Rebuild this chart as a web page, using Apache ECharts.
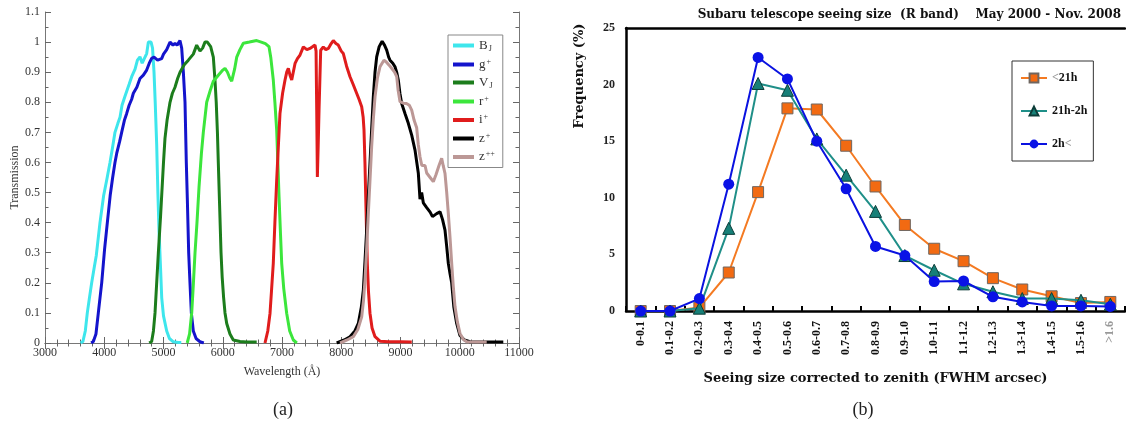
<!DOCTYPE html>
<html lang="en">
<head>
    <meta charset="utf-8">
    <script src="https://cdn.jsdelivr.net/npm/echarts@6/dist/echarts.min.js"></script>
    <title></title>
    <style>html, body { margin: 0; padding: 0; background: #fff; }</style>
</head>
<body>
<div id="main" style="width: 1126px;height:426px;"></div>
<script type="text/javascript">
    // (a) filter transmission curves, [wavelength (A), transmission]
    var bJ = [[3600, 0], [3640, 0.005], [3680, 0.04], [3714, 0.1], [3750, 0.15], [3788, 0.2], [3830, 0.25], [3865, 0.29],
        [3928, 0.4], [3990, 0.49], [4040, 0.54], [4097, 0.6], [4140, 0.65], [4181, 0.7], [4230, 0.73], [4266, 0.75],
        [4300, 0.79], [4350, 0.82], [4420, 0.86], [4463, 0.885], [4520, 0.91], [4560, 0.94], [4603, 0.951],
        [4640, 0.93], [4670, 0.935], [4716, 0.962], [4745, 1.0], [4790, 1.0], [4815, 0.98], [4840, 0.9], [4860, 0.8],
        [4885, 0.66], [4905, 0.5], [4925, 0.37], [4950, 0.25], [4970, 0.15], [5000, 0.09], [5054, 0.04],
        [5100, 0.015], [5166, 0.004], [5250, 0.002], [5300, 0.002]];
    var gPlus = [[3780, 0], [3816, 0.005], [3860, 0.03], [3900, 0.1], [3957, 0.2], [4005, 0.31], [4052, 0.4],
        [4100, 0.49], [4142, 0.55], [4181, 0.6], [4210, 0.63], [4260, 0.67], [4294, 0.7], [4340, 0.74], [4379, 0.763],
        [4420, 0.79], [4463, 0.81], [4491, 0.83], [4550, 0.85], [4603, 0.879], [4660, 0.89], [4716, 0.907],
        [4760, 0.93], [4800, 0.946], [4840, 0.95], [4873, 0.95], [4900, 0.94], [4930, 0.94], [4969, 0.945],
        [5000, 0.96], [5054, 0.975], [5110, 1.0], [5160, 0.99], [5194, 0.996], [5230, 0.99], [5278, 1.005],
        [5307, 0.98], [5335, 0.9], [5363, 0.8], [5385, 0.6], [5402, 0.48], [5425, 0.3], [5447, 0.2], [5470, 0.1],
        [5503, 0.04], [5550, 0.015], [5616, 0.004], [5680, 0]];
    var vJ = [[4760, 0], [4800, 0.005], [4830, 0.04], [4857, 0.1], [4885, 0.2], [4913, 0.3], [4950, 0.42],
        [4986, 0.55], [5000, 0.6], [5025, 0.68], [5060, 0.74], [5110, 0.8], [5150, 0.83], [5194, 0.85], [5240, 0.88],
        [5279, 0.9], [5350, 0.925], [5419, 0.94], [5503, 0.96], [5560, 0.99], [5616, 0.97], [5660, 0.98],
        [5700, 1.0], [5740, 1.0], [5796, 0.985], [5841, 0.95], [5870, 0.87], [5890, 0.8], [5910, 0.7], [5925, 0.6],
        [5945, 0.47], [5971, 0.3], [5990, 0.22], [6015, 0.15], [6038, 0.1], [6067, 0.065], [6122, 0.03],
        [6178, 0.01], [6291, 0.005], [6400, 0.003], [6573, 0.003]];
    var rPlus = [[5400, 0], [5440, 0.03], [5476, 0.1], [5505, 0.2], [5532, 0.3], [5565, 0.4], [5600, 0.52],
        [5640, 0.63], [5672, 0.7], [5729, 0.8], [5790, 0.84], [5841, 0.87], [5925, 0.89], [5990, 0.905],
        [6038, 0.913], [6080, 0.9], [6120, 0.88], [6151, 0.87], [6200, 0.91], [6236, 0.95], [6290, 0.975],
        [6347, 0.996], [6450, 1.0], [6573, 1.005], [6650, 1.0], [6720, 0.995], [6780, 0.985], [6810, 0.95],
        [6853, 0.874], [6880, 0.8], [6910, 0.708], [6930, 0.6], [6950, 0.486], [6975, 0.36], [6995, 0.265],
        [7030, 0.18], [7079, 0.099], [7130, 0.04], [7191, 0.01], [7250, 0]];
    var iPlus = [[6713, 0], [6760, 0.04], [6798, 0.099], [6825, 0.18], [6853, 0.265], [6880, 0.4], [6910, 0.54],
        [6940, 0.66], [6966, 0.763], [7010, 0.83], [7051, 0.874], [7080, 0.9], [7107, 0.913], [7135, 0.89],
        [7164, 0.874], [7190, 0.9], [7220, 0.929], [7260, 0.945], [7304, 0.957], [7360, 0.984], [7420, 0.975],
        [7473, 0.979], [7520, 0.985], [7557, 0.99], [7575, 0.97], [7586, 0.774], [7597, 0.552], [7610, 0.65],
        [7625, 0.774], [7653, 0.973], [7697, 0.984], [7740, 0.975], [7782, 0.979], [7830, 0.995], [7866, 1.005],
        [7910, 0.995], [7950, 0.99], [8000, 0.97], [8035, 0.962], [8090, 0.92], [8148, 0.885], [8200, 0.86],
        [8260, 0.83], [8300, 0.81], [8345, 0.785], [8370, 0.75], [8384, 0.708], [8400, 0.6], [8413, 0.486],
        [8426, 0.38], [8440, 0.265], [8460, 0.17], [8485, 0.099], [8520, 0.05], [8570, 0.021], [8654, 0.006],
        [8800, 0.004], [9000, 0.004], [9190, 0.003]];
    var zPlus = [[7923, 0], [8050, 0.01], [8148, 0.021], [8230, 0.04], [8288, 0.065], [8340, 0.12], [8373, 0.176],
        [8400, 0.27], [8429, 0.375], [8457, 0.49], [8485, 0.597], [8513, 0.71], [8541, 0.818], [8570, 0.9],
        [8598, 0.951], [8640, 0.985], [8690, 1.003], [8730, 0.99], [8767, 0.973], [8800, 0.95], [8823, 0.94],
        [8870, 0.93], [8907, 0.918], [8935, 0.9], [8963, 0.874], [8990, 0.83], [9020, 0.796], [9080, 0.76],
        [9132, 0.73], [9190, 0.69], [9245, 0.641], [9275, 0.6], [9301, 0.564], [9329, 0.478], [9357, 0.5],
        [9385, 0.466], [9415, 0.46], [9442, 0.45], [9500, 0.435], [9540, 0.42], [9610, 0.43], [9667, 0.436],
        [9710, 0.41], [9751, 0.375], [9780, 0.32], [9807, 0.265], [9836, 0.23], [9864, 0.2], [9900, 0.12],
        [9948, 0.065], [10004, 0.025], [10080, 0.01], [10173, 0.004], [10400, 0.003], [10600, 0.003],
        [10735, 0.003]];
    var zPlusPlus = [[7980, 0], [8100, 0.01], [8204, 0.021], [8280, 0.045], [8345, 0.087], [8375, 0.14],
        [8401, 0.209], [8430, 0.32], [8457, 0.431], [8485, 0.54], [8513, 0.652], [8540, 0.74], [8570, 0.818],
        [8610, 0.88], [8654, 0.918], [8720, 0.94], [8760, 0.934], [8800, 0.925], [8851, 0.913], [8900, 0.9],
        [8936, 0.885], [8960, 0.84], [8992, 0.802], [9048, 0.797], [9100, 0.796], [9150, 0.79], [9189, 0.774],
        [9230, 0.74], [9273, 0.715], [9300, 0.66], [9329, 0.619], [9360, 0.59], [9385, 0.586], [9414, 0.59],
        [9442, 0.565], [9500, 0.55], [9554, 0.536], [9600, 0.56], [9650, 0.59], [9695, 0.614], [9720, 0.59],
        [9751, 0.564], [9780, 0.5], [9807, 0.431], [9836, 0.35], [9864, 0.265], [9890, 0.19], [9920, 0.121],
        [9960, 0.07], [10004, 0.032], [10060, 0.012], [10117, 0.004], [10300, 0.003], [10455, 0.003]];

    var filterNames = ['B_J', 'g+', 'V_J', 'r+', 'i+', 'z+', 'z++'];
    var filterColors = ['#3ee6ec', '#1414cc', '#1c7d1c', '#3ce63c', '#e01c1c', '#000000', '#bc9896'];
    var filterData = [bJ, gPlus, vJ, rPlus, iPlus, zPlus, zPlusPlus];
    var filterLabels = {
        'B_J': '{m|B}{sub|J}',
        'g+': '{m|g}{sup|+}',
        'V_J': '{m|V}{sub|J}',
        'r+': '{m|r}{sup|+}',
        'i+': '{m|i}{sup|+}',
        'z+': '{m|z}{sup|+}',
        'z++': '{m|z}{sup|++}'
    };

    // (b) seeing size histogram, frequency in %
    var seeingBins = ['0-0.1', '0.1-0.2', '0.2-0.3', '0.3-0.4', '0.4-0.5', '0.5-0.6', '0.6-0.7', '0.7-0.8',
        '0.8-0.9', '0.9-1.0', '1.0-1.1', '1.1-1.2', '1.2-1.3', '1.3-1.4', '1.4-1.5', '1.5-1.6', '>1.6'];
    var before21h = [0, 0, 0.3, 3.4, 10.5, 17.9, 17.8, 14.6, 11.0, 7.6, 5.5, 4.4, 2.9, 1.9, 1.3, 0.7, 0.8];
    var from21hTo2h = [0, 0, 0.25, 7.3, 20.1, 19.5, 15.2, 12.0, 8.8, 4.9, 3.6, 2.4, 1.7, 1.1, 1.1, 0.95, 0.6];
    var after2h = [0, 0, 1.1, 11.2, 22.4, 20.5, 15.0, 10.8, 5.7, 4.9, 2.6, 2.65, 1.25, 0.8, 0.45, 0.45, 0.4];

    var serif = '"Liberation Serif", "DejaVu Serif", serif';
    var wide = '"DejaVu Serif", "Liberation Serif", serif';
    var myChart = echarts.init(document.getElementById('main'));

    var series = filterNames.map(function (name, i) {
        return {
            name: name,
            type: 'line',
            xAxisIndex: 0,
            yAxisIndex: 0,
            symbol: 'none',
            data: filterData[i],
            lineStyle: {color: filterColors[i], width: 3},
            itemStyle: {color: filterColors[i]},
            z: 2 + i
        };
    });
    series.push({
        name: '<21h', type: 'line', xAxisIndex: 2, yAxisIndex: 2, data: before21h,
        symbol: 'rect', symbolSize: 11,
        lineStyle: {color: '#f47a22', width: 2},
        itemStyle: {color: '#f26a12', borderColor: '#6f6660', borderWidth: 1},
        z: 3
    }, {
        name: '21h-2h', type: 'line', xAxisIndex: 2, yAxisIndex: 2, data: from21hTo2h,
        symbol: 'triangle', symbolSize: 12,
        lineStyle: {color: '#1f8f88', width: 2},
        itemStyle: {color: '#178078', borderColor: '#0c3c38', borderWidth: 1},
        z: 4
    }, {
        name: '2h<', type: 'line', xAxisIndex: 2, yAxisIndex: 2, data: after2h,
        symbol: 'circle', symbolSize: 11,
        lineStyle: {color: '#0a12e0', width: 2},
        itemStyle: {color: '#0a12e6'},
        z: 5
    });

    var tickA = {show: true, inside: true, length: 6, lineStyle: {color: '#666'}};
    var lineA = {show: true, lineStyle: {color: '#777', width: 1}};

    var option = {
        animation: false,
        title: {
            text: 'Subaru telescope seeing size  (R band)    May 2000 - Nov. 2008',
            right: 5,
            top: 9,
            padding: 0,
            textStyle: {fontFamily: wide, fontWeight: 'bold', fontSize: 12, color: '#111'}
        },
        legend: [{
            data: filterNames,
            orient: 'vertical',
            left: 448,
            top: 35,
            icon: 'rect',
            itemWidth: 21,
            itemHeight: 4,
            itemGap: 5,
            padding: [4, 8, 4, 5],
            borderColor: '#888',
            borderWidth: 1,
            formatter: function (name) { return filterLabels[name]; },
            textStyle: {
                rich: {
                    m: {fontFamily: serif, fontSize: 13, color: '#333', lineHeight: 14},
                    sub: {fontFamily: serif, fontSize: 8, color: '#333', verticalAlign: 'bottom', padding: [6, 0, 0, 1]},
                    sup: {fontFamily: serif, fontSize: 8, color: '#333', verticalAlign: 'top', padding: [0, 0, 6, 1]}
                }
            }
        }, {
            data: ['<21h', '21h-2h', '2h<'],
            orient: 'vertical',
            left: 1012,
            top: 61,
            itemWidth: 26,
            itemHeight: 11,
            itemGap: 21,
            padding: [11, 6, 11, 8],
            borderColor: '#333',
            borderWidth: 1,
            formatter: function (name) {
                if (name === '<21h') return '{g|<}{t|21h}';
                if (name === '2h<') return '{t|2h}{g|<}';
                return '{t|' + name + '}';
            },
            textStyle: {
                rich: {
                    t: {fontFamily: serif, fontWeight: 'bold', fontSize: 12, color: '#111'},
                    g: {fontFamily: serif, fontWeight: 'bold', fontSize: 12, color: '#999'}
                }
            }
        }],
        grid: [
            {left: 45, top: 12, width: 474, height: 331},
            {left: 626, top: 28, width: 499, height: 283}
        ],
        xAxis: [
            {
                type: 'value', gridIndex: 0, min: 3000, max: 11000, interval: 1000,
                name: 'Wavelength (\u00c5)', nameLocation: 'middle', nameGap: 23,
                nameTextStyle: {fontFamily: serif, fontSize: 12, color: '#333'},
                axisLine: lineA, axisTick: tickA,
                minorTick: {show: true, splitNumber: 5, length: 3.5, lineStyle: {color: '#666'}},
                axisLabel: {
                    fontFamily: serif, fontSize: 12, color: '#333', margin: 4,
                    formatter: function (v) { return String(v); }
                },
                splitLine: {show: false}
            },
            {
                type: 'value', gridIndex: 0, position: 'top', min: 3000, max: 11000, interval: 1000,
                axisLine: lineA, axisTick: tickA,
                minorTick: {show: true, splitNumber: 5, length: 3.5, lineStyle: {color: '#666'}},
                axisLabel: {show: false}, splitLine: {show: false}
            },
            {
                type: 'category', gridIndex: 1, data: seeingBins, boundaryGap: true,
                name: 'Seeing size corrected to zenith (FWHM arcsec)', nameLocation: 'middle', nameGap: 61,
                nameTextStyle: {fontFamily: wide, fontWeight: 'bold', fontSize: 13, color: '#111'},
                axisLine: {lineStyle: {color: '#000', width: 2.5}},
                axisTick: {show: true, inside: true, length: 5, lineStyle: {color: '#000', width: 2}},
                axisLabel: {
                    interval: 0, rotate: 90, margin: 10,
                    fontFamily: serif, fontWeight: 'bold', fontSize: 12, color: '#111',
                    formatter: function (v) { return v.charAt(0) === '>' ? '{g|' + v + '}' : v; },
                    rich: {g: {fontFamily: serif, fontWeight: 'bold', fontSize: 12, color: '#999'}}
                }
            },
            {
                type: 'category', gridIndex: 1, position: 'top', data: seeingBins,
                axisLine: {lineStyle: {color: '#000', width: 2.5}},
                axisTick: {show: false}, axisLabel: {show: false}
            }
        ],
        yAxis: [
            {
                type: 'value', gridIndex: 0, min: 0, max: 1.1, interval: 0.1,
                name: 'Transmission', nameLocation: 'middle', nameGap: 20,
                nameTextStyle: {fontFamily: serif, fontSize: 12, color: '#333'},
                axisLine: lineA, axisTick: tickA,
                minorTick: {show: true, splitNumber: 2, length: 3.5, lineStyle: {color: '#666'}},
                axisLabel: {fontFamily: serif, fontSize: 12, color: '#333', margin: 5},
                splitLine: {show: false}
            },
            {
                type: 'value', gridIndex: 0, position: 'right', min: 0, max: 1.1, interval: 0.1,
                axisLine: lineA, axisTick: tickA,
                minorTick: {show: true, splitNumber: 2, length: 3.5, lineStyle: {color: '#666'}},
                axisLabel: {show: false}, splitLine: {show: false}
            },
            {
                type: 'value', gridIndex: 1, min: 0, max: 25, interval: 5,
                axisLine: {show: true, lineStyle: {color: '#000', width: 2.5}},
                axisTick: {show: false},
                axisLabel: {fontFamily: serif, fontWeight: 'bold', fontSize: 12, color: '#222', margin: 11},
                splitLine: {show: false}
            }
        ],
        graphic: [
            {
                type: 'text', x: 580, y: 76, rotation: Math.PI / 2,
                style: {
                    text: 'Frequency (%)', fill: '#111', font: 'bold 13px ' + wide,
                    align: 'center', verticalAlign: 'middle', textAlign: 'center', textVerticalAlign: 'middle'
                }
            },
            {
                type: 'text', x: 283, y: 410,
                style: {
                    text: '(a)', fill: '#222', font: '18px ' + serif,
                    align: 'center', verticalAlign: 'middle', textAlign: 'center', textVerticalAlign: 'middle'
                }
            },
            {
                type: 'text', x: 863, y: 410,
                style: {
                    text: '(b)', fill: '#222', font: '18px ' + serif,
                    align: 'center', verticalAlign: 'middle', textAlign: 'center', textVerticalAlign: 'middle'
                }
            }
        ],
        series: series
    };

    myChart.setOption(option);
</script>
</body>
</html>
